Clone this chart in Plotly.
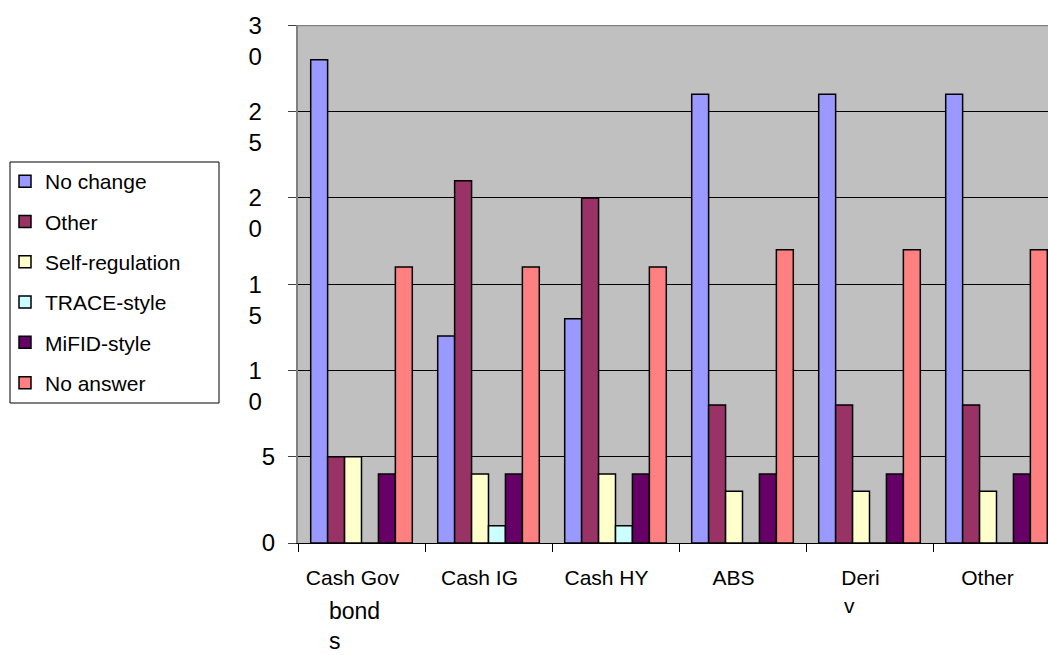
import plotly.graph_objects as go

categories = ["Cash Gov", "Cash IG", "Cash HY", "ABS", "Deri", "Other"]
series_names = ["No change", "Other", "Self-regulation", "TRACE-style", "MiFID-style", "No answer"]
no_change = [28, 12, 13, 26, 26, 26]
other = [5, 21, 20, 8, 8, 8]
self_regulation = [5, 4, 4, 3, 3, 3]
trace_style = [0, 1, 1, 0, 0, 0]
mifid_style = [4, 4, 4, 4, 4, 4]
no_answer = [16, 16, 16, 17, 17, 17]
colors = ["#9999FF", "#993366", "#FFFFCC", "#CCFFFF", "#660066", "#FF8080"]

y_tickvals = [0, 5, 10, 15, 20, 25, 30]
y_ticktext = ["0", "5",
              " <br>1&nbsp;&nbsp;<br>0&nbsp;&nbsp;",
              " <br>1&nbsp;&nbsp;<br>5&nbsp;&nbsp;",
              " <br>2&nbsp;&nbsp;<br>0&nbsp;&nbsp;",
              " <br>2&nbsp;&nbsp;<br>5&nbsp;&nbsp;",
              " <br>3&nbsp;&nbsp;<br>0&nbsp;&nbsp;"]

FONT = "Liberation Sans, Arial, sans-serif"
W, H = 1048, 655
L, R, T, B = 298, 0, 25, 112
pw, ph = W - L - R, H - T - B

fig = go.Figure()
all_values = [no_change, other, self_regulation, trace_style, mifid_style, no_answer]
for i, (name, vals, col) in enumerate(zip(series_names, all_values, colors)):
    fig.add_trace(go.Bar(
        name=name, x=categories, y=vals,
        marker=dict(color=col, line=dict(color="black", width=1.5)),
        legendgroup=f"g{i}",
    ))

def px_x(p):
    return (p - L) / pw

def px_y(p):
    return (H - B - p) / ph

fig.update_layout(
    width=W, height=H,
    margin=dict(l=L, r=R, t=T, b=B, pad=0, autoexpand=False),
    paper_bgcolor="white",
    plot_bgcolor="#C0C0C0",
    barmode="group",
    bargap=0.2,
    bargroupgap=0,
    font=dict(family=FONT, color="black"),
    showlegend=True,
    legend=dict(
        xref="container", yref="container",
        x=5 / W, y=1 - 161 / H, xanchor="left", yanchor="top",
        bgcolor="rgba(0,0,0,0)", borderwidth=0,
        font=dict(size=21, family=FONT, color="black"),
        tracegroupgap=10,
        traceorder="grouped",
    ),
    xaxis=dict(
        type="category", automargin=False,
        range=[-0.5, -0.5 + pw / 127.0],
        tickmode="array", tickvals=categories, ticktext=categories,
        tickson="boundaries",
        ticks="outside", ticklen=8, tickcolor="black", tickwidth=1,
        ticklabelstandoff=16, ticklabelshift=-9,
        tickfont=dict(size=21, family=FONT, color="black"),
        showline=True, linecolor="black", linewidth=1,
        showgrid=False, zeroline=False,
    ),
    yaxis=dict(
        automargin=False,
        range=[0, 30.02],
        tickmode="array", tickvals=y_tickvals, ticktext=y_ticktext,
        ticks="outside", ticklen=8, tickcolor="#404040", tickwidth=1,
        ticklabelstandoff=8, ticklabeloverflow="allow",
        tickfont=dict(size=24, family=FONT, color="black"),
        showline=True, linecolor="#808080", linewidth=2,
        showgrid=True, gridcolor="black", gridwidth=1,
        zeroline=False,
    ),
    shapes=[
        # legend frame
        dict(type="rect", xref="paper", yref="paper",
             x0=px_x(10), x1=px_x(219), y0=px_y(403), y1=px_y(162),
             line=dict(color="black", width=1), fillcolor="rgba(0,0,0,0)"),
        # top border of the plot area
        dict(type="line", xref="paper", yref="y", x0=0, x1=1, y0=30, y1=30,
             line=dict(color="#808080", width=2)),
    ],
    annotations=[
        dict(text="bond<br>s", xref="x", yref="paper", x="Cash Gov", y=px_y(655),
             xanchor="left", yanchor="bottom", align="left", xshift=-34,
             showarrow=False, borderpad=0,
             font=dict(size=23, family=FONT, color="black")),
        dict(text="v", xref="x", yref="paper", x="Deri", y=px_y(605),
             xanchor="left", yanchor="middle", xshift=-28, showarrow=False,
             font=dict(size=21, family=FONT, color="black")),
    ],
)

fig.write_html("out.html")
